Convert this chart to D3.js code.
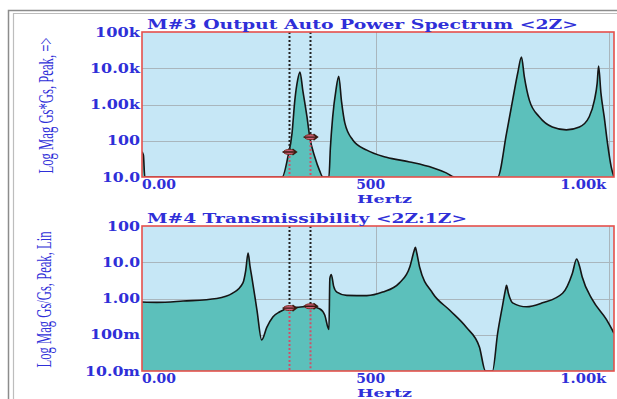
<!DOCTYPE html>
<html>
<head>
<meta charset="utf-8">
<script src="https://cdn.jsdelivr.net/npm/d3@7"></script>
<style>
  body { margin: 0; background: #fff; }
  svg { display: block; }
</style>
</head>
<body>
<script>
// M#3 output auto power spectrum (Gs*Gs)
var specFreq = [0, 3, 6, 300, 312, 321, 327, 333, 338, 344, 353, 359, 370, 380, 387,
                400, 403, 408, 415, 421, 427, 434, 451, 481, 523, 573, 622, 651, 669,
                761, 780, 793, 804, 812, 818, 829, 850, 878, 908, 936, 957, 968, 974,
                977, 982, 989, 996, 1004, 1010];
var specMag  = [50, 40, 10, 10, 35, 160, 1300, 4700, 7900, 2500, 460, 126, 35, 15, 10,
                10, 60, 450, 2500, 6000, 1200, 310, 105, 55, 35, 26, 18, 13, 10,
                10, 160, 1300, 7400, 20400, 6000, 1300, 460, 240, 200, 240, 460, 1300, 3900,
                11500, 2100, 460, 87, 19, 10];

// M#4 transmissibility (Gs/Gs)
var trFreq = [0, 32, 88, 160, 194, 216, 222, 227, 231, 235, 246, 256, 267, 280, 295,
              312, 331, 359, 380, 391, 400, 402, 405, 410, 417, 438, 481, 515, 551,
              573, 582, 585, 588, 594, 622, 658, 694, 722, 735, 750, 761, 771, 778,
              780, 784, 793, 823, 857, 900, 921, 930, 936, 942, 964, 994, 1010];
var trMag  = [0.80, 0.78, 0.85, 1.0, 1.4, 2.7, 6, 18, 8, 3.9, 0.48, 0.072, 0.16, 0.31, 0.43,
              0.54, 0.57, 0.61, 0.52, 0.35, 0.14, 3.6, 4.6, 2.2, 1.5, 1.22, 1.2, 1.5, 2.7,
              7.4, 20, 26, 18, 7.4, 1.4, 0.48, 0.16, 0.046, 0.01, 0.01, 0.11, 0.59, 1.8,
              2.3, 1.4, 0.76, 0.59, 0.76, 1.4, 5.0, 12.3, 8, 3.9, 0.91, 0.26, 0.11];

var cursorFreqs = [314, 359];

var xTicks = [0, 500, 1000];
var xTickLabels = ["0.00", "500", "1.00k"];

var specTicks = [10, 100, 1000, 10000, 100000];
var specTickLabels = ["10.0", "100", "1.00k", "10.0k", "100k"];

var trTicks = [0.01, 0.1, 1, 10, 100];
var trTickLabels = ["10.0m", "100m", "1.00", "10.0", "100"];

var blue = "#2f2fd8",
    plotBg = "#c6e7f6",
    fillCol = "#5cc0bb",
    gridCol = "#a9b6bd",
    borderCol = "#e5504c";

var svg = d3.select("body").append("svg")
    .attr("width", 617)
    .attr("height", 399);

// outer frame (double line)
svg.append("path")
    .attr("d", "M8.5,399 V10.5 H617")
    .attr("fill", "none").attr("stroke", "#8c8c8c").attr("stroke-width", 1.5);
svg.append("path")
    .attr("d", "M13.5,399 V13.5 H617")
    .attr("fill", "none").attr("stroke", "#bdbdbd").attr("stroke-width", 1.2);

var x = d3.scaleLinear()
    .domain([0, 1010])
    .range([142, 614]);

// width of a tick label, per character
function labelWidth(s) {
  var w = 0;
  for (var i = 0; i < s.length; i++) {
    var c = s[i];
    w += c === "." ? 5 : c === "k" ? 12 : c === "m" ? 17 : 11;
  }
  return w;
}

function addText(g, str, px, py, anchor, len, size) {
  var t = g.append("text")
      .attr("x", px)
      .attr("y", py)
      .attr("text-anchor", anchor)
      .attr("fill", blue)
      .attr("font-family", "DejaVu Serif, serif")
      .attr("font-weight", "bold")
      .attr("font-size", size || 12)
      .text(str);
  if (len) t.attr("textLength", len).attr("lengthAdjust", "spacingAndGlyphs");
  return t;
}

function valueAt(freqs, mags, f) {
  var i = d3.bisectRight(freqs, f) - 1;
  i = Math.max(0, Math.min(freqs.length - 2, i));
  var t = (f - freqs[i]) / (freqs[i + 1] - freqs[i]);
  return Math.pow(10, Math.log10(mags[i]) * (1 - t) + Math.log10(mags[i + 1]) * t);
}

function drawPanel(cfg) {
  var y = d3.scaleLog().domain(cfg.domain).range([cfg.bottom, cfg.top]);
  var g = svg.append("g");
  var clipId = "clip" + cfg.id;

  g.append("clipPath").attr("id", clipId)
    .append("rect")
      .attr("x", x.range()[0]).attr("y", cfg.top)
      .attr("width", x.range()[1] - x.range()[0])
      .attr("height", cfg.bottom - cfg.top);

  g.append("rect")
      .attr("x", x.range()[0]).attr("y", cfg.top)
      .attr("width", x.range()[1] - x.range()[0])
      .attr("height", cfg.bottom - cfg.top)
      .attr("fill", plotBg);

  // grid
  g.append("g").selectAll("line")
    .data(cfg.ticks.slice(1, -1))
    .join("line")
      .attr("x1", x.range()[0]).attr("x2", x.range()[1])
      .attr("y1", function(d) { return Math.round(y(d)) + 0.5; })
      .attr("y2", function(d) { return Math.round(y(d)) + 0.5; })
      .attr("stroke", gridCol).attr("stroke-width", 1);
  g.append("g").selectAll("line")
    .data(xTicks.slice(1))
    .join("line")
      .attr("x1", function(d) { return Math.round(x(d)) + 0.5; })
      .attr("x2", function(d) { return Math.round(x(d)) + 0.5; })
      .attr("y1", cfg.top).attr("y2", cfg.bottom)
      .attr("stroke", gridCol).attr("stroke-width", 1);

  var pts = cfg.freqs.map(function(f, i) { return [f, cfg.mags[i]]; });
  var yc = function(d) { return y(Math.max(cfg.domain[0], d[1])); };

  var area = d3.area()
      .x(function(d) { return x(d[0]); })
      .y0(cfg.bottom)
      .y1(yc)
      .curve(d3.curveMonotoneX);
  var line = d3.line()
      .x(function(d) { return x(d[0]); })
      .y(yc)
      .curve(d3.curveMonotoneX);

  var plot = g.append("g").attr("clip-path", "url(#" + clipId + ")");
  plot.append("path").datum(pts)
      .attr("d", area)
      .attr("fill", fillCol);
  plot.append("path").datum(pts)
      .attr("d", line)
      .attr("fill", "none")
      .attr("stroke", "#151515")
      .attr("stroke-width", 1.6)
      .attr("stroke-linejoin", "round");

  // cursors
  cursorFreqs.forEach(function(f) {
    var cx = Math.round(x(f)) + 0.5;
    var cy = y(Math.max(cfg.domain[0], valueAt(cfg.freqs, cfg.mags, f)));
    plot.append("line")
        .attr("x1", cx).attr("x2", cx).attr("y1", cfg.top).attr("y2", cy)
        .attr("stroke", "#222").attr("stroke-width", 2).attr("stroke-dasharray", "2,2");
    plot.append("line")
        .attr("x1", cx).attr("x2", cx).attr("y1", cy).attr("y2", cfg.bottom)
        .attr("stroke", "#d0506a").attr("stroke-width", 2).attr("stroke-dasharray", "2,2");
    plot.append("ellipse")
        .attr("cx", cx).attr("cy", cy).attr("rx", 6).attr("ry", 2.5)
        .attr("fill", "#d0607a").attr("stroke", "#7a2a20").attr("stroke-width", 1);
    plot.append("path")
        .attr("d", "M" + (cx - 7) + "," + cy + " L" + (cx + 7) + "," + cy +
                   " M" + (cx + 3) + "," + (cy - 3) + " L" + (cx + 7) + "," + cy +
                   " L" + (cx + 3) + "," + (cy + 3))
        .attr("fill", "none").attr("stroke", "#3a1a10").attr("stroke-width", 1.4);
  });

  // plot border
  g.append("rect")
      .attr("x", x.range()[0]).attr("y", cfg.top)
      .attr("width", x.range()[1] - x.range()[0])
      .attr("height", cfg.bottom - cfg.top)
      .attr("fill", "none")
      .attr("stroke", borderCol).attr("stroke-width", 1.6);

  // y tick labels
  cfg.tickLabels.forEach(function(s, i) {
    addText(g, s, 140, y(cfg.ticks[i]) + 4.5, "end", labelWidth(s));
  });

  // x tick labels
  xTickLabels.forEach(function(s, i) {
    var anchor = i === 0 ? "start" : i === xTicks.length - 1 ? "end" : "middle";
    var px = i === 0 ? x(xTicks[i]) : i === xTicks.length - 1 ? x(xTicks[i]) - 3 : x(xTicks[i]) - 5;
    addText(g, s, px, cfg.bottom + 12, anchor, labelWidth(s) - 4);
  });

  addText(g, "Hertz", 357, cfg.bottom + 26, "start", 55, 11.5);
  addText(g, cfg.title, 147, cfg.top - 3, "start", cfg.titleLen);

  g.append("text")
      .attr("transform", "translate(" + cfg.labelX + "," + ((cfg.top + cfg.bottom) / 2 + 1) + ") scale(1.55,1) rotate(-90)")
      .attr("text-anchor", "middle")
      .attr("dy", "0.3em")
      .attr("fill", blue)
      .attr("font-family", "Liberation Serif, serif")
      .attr("font-size", 14)
      .attr("textLength", 136)
      .attr("lengthAdjust", "spacingAndGlyphs")
      .text(cfg.ylabel);
}

drawPanel({
  id: "spec",
  top: 32, bottom: 177,
  domain: [10, 100000],
  ticks: specTicks, tickLabels: specTickLabels,
  freqs: specFreq, mags: specMag,
  title: "M#3 Output Auto Power Spectrum  <2Z>", titleLen: 431,
  ylabel: "Log Mag Gs*Gs, Peak, =>", labelX: 46
});

drawPanel({
  id: "tr",
  top: 226, bottom: 371,
  domain: [0.01, 100],
  ticks: trTicks, tickLabels: trTickLabels,
  freqs: trFreq, mags: trMag,
  title: "M#4 Transmissibility  <2Z:1Z>", titleLen: 320,
  ylabel: "Log Mag Gs/Gs, Peak, Lin", labelX: 44
});
</script>
</body>
</html>
